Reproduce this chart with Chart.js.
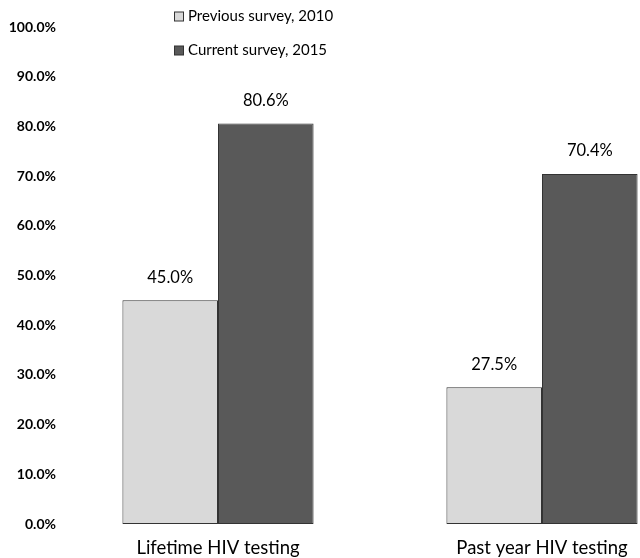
<!DOCTYPE html>
<html>
<head>
<meta charset="utf-8">
<script src="https://cdn.jsdelivr.net/npm/chart.js@4"></script>
<style>
    html, body { margin: 0; padding: 0; background: #fff; overflow: hidden; }
    #wrap { width: 712px; height: 558px; }
</style>
</head>
<body>
<div id="wrap"><canvas id="chart" width="712" height="558"></canvas></div>
<script>
// HIV testing, previous vs current survey
const categories = ['Lifetime HIV testing', 'Past year HIV testing'];
const previous2010 = [45.0, 27.5];
const current2015 = [80.6, 70.4];
const seriesNames = ['Previous survey, 2010', 'Current survey, 2015'];
const yTicks = [0, 10, 20, 30, 40, 50, 60, 70, 80, 90, 100];

const FONT = 'Lato, "Liberation Sans", sans-serif';

// value labels above each bar
const valueLabels = {
    id: 'valueLabels',
    afterDatasetsDraw(chart) {
        const ctx = chart.ctx;
        ctx.save();
        ctx.font = '16.5px ' + FONT;
        ctx.fillStyle = '#000';
        ctx.textAlign = 'center';
        ctx.textBaseline = 'middle';
        chart.data.datasets.forEach((ds, i) => {
            chart.getDatasetMeta(i).data.forEach((bar, j) => {
                ctx.fillText(ds.data[j].toFixed(1) + '%', bar.x, bar.y - 23);
            });
        });
        ctx.restore();
    }
};

// stacked legend at the top
const stackedLegend = {
    id: 'stackedLegend',
    afterDraw(chart) {
        const ctx = chart.ctx;
        ctx.save();
        ctx.font = '15px ' + FONT;
        ctx.textBaseline = 'middle';
        ctx.textAlign = 'left';
        chart.data.datasets.forEach((ds, i) => {
            const y = 16.5 + i * 34;
            ctx.fillStyle = ds.backgroundColor;
            ctx.strokeStyle = '#333';
            ctx.lineWidth = 1;
            ctx.fillRect(174.5, y - 4.5, 9, 9);
            ctx.strokeRect(174.5, y - 4.5, 9, 9);
            ctx.fillStyle = '#000';
            ctx.fillText(ds.label, 188, y);
        });
        ctx.restore();
    }
};

new Chart(document.getElementById('chart'), {
    type: 'bar',
    data: {
        labels: categories,
        datasets: [
            {
                label: seriesNames[0],
                data: previous2010,
                backgroundColor: '#d9d9d9',
                borderColor: '#333333',
                borderWidth: 1,
                borderSkipped: false,
                categoryPercentage: 0.59,
                barPercentage: 1
            },
            {
                label: seriesNames[1],
                data: current2015,
                backgroundColor: '#595959',
                borderColor: '#333333',
                borderWidth: 1,
                borderSkipped: false,
                categoryPercentage: 0.59,
                barPercentage: 1
            }
        ]
    },
    options: {
        responsive: false,
        animation: false,
        layout: { padding: { top: 27, right: 8, bottom: 0, left: 0 } },
        plugins: {
            legend: { display: false },
            tooltip: { enabled: false }
        },
        scales: {
            x: {
                grid: { display: false, drawTicks: false },
                border: { display: false },
                ticks: {
                    color: '#000',
                    padding: 13,
                    font: { family: FONT, size: 18.5 }
                },
                afterFit: (scale) => { scale.height = 34; }
            },
            y: {
                min: 0,
                max: 100,
                grid: { display: false, drawTicks: false },
                border: { display: false },
                afterBuildTicks: (scale) => { scale.ticks = yTicks.map(v => ({ value: v })); },
                afterFit: (scale) => { scale.width = 56; },
                ticks: {
                    color: '#000',
                    padding: 0,
                    font: { family: FONT, size: 14, weight: 'bold' },
                    callback: (v) => v.toFixed(1) + '%'
                }
            }
        }
    },
    plugins: [valueLabels, stackedLegend]
});
</script>
</body>
</html>
